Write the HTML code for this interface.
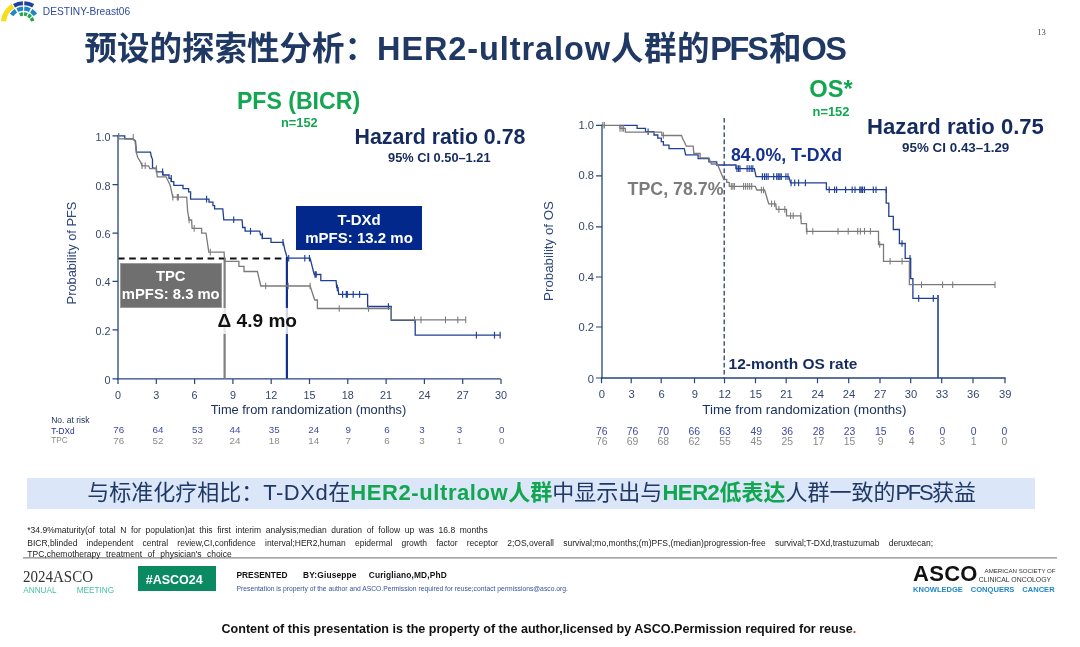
<!DOCTYPE html>
<html lang="zh"><head><meta charset="utf-8"><title>DESTINY-Breast06 HER2-ultralow PFS/OS</title>
<style>
html,body{margin:0;padding:0;background:#fff;}
body{width:1080px;height:647px;position:relative;overflow:hidden;font-family:"Liberation Sans","Noto Sans CJK SC",sans-serif;}
.gfx{position:absolute;left:0;top:0;}
.t{position:absolute;white-space:nowrap;line-height:1;transform:translateY(-50%);}
.ac{transform:translate(-50%,-50%);}
.ar{transform:translate(-100%,-50%);}
.ax{font-size:10.8px;color:#34466f;}
.rk{font-size:9.8px;}
.ro{font-size:10.4px;}
.ao{font-size:11.2px;}
.rb{color:#3f4ba2;}
.rg{color:#8a8a8a;}
.b{font-weight:bold;}
.box{position:absolute;color:#fff;font-weight:bold;text-align:center;font-size:14px;line-height:18.2px;box-sizing:border-box;}
.g{color:#12a650;font-weight:bold;}
.fn{font-size:8.5px;color:#222;}
</style></head><body>
<svg class="gfx" width="1080" height="647" viewBox="0 0 1080 647">
<path d="M0.92,20.92A22.8,22.8 0 0 1 11.52,3.96L14.27,8.37A17.6,17.6 0 0 0 6.10,21.46Z" fill="#f5df1c"/>
<path d="M13.05,3.88A22.1,22.1 0 0 1 22.83,1.21L22.97,5.31A18.0,18.0 0 0 0 15.01,7.48Z" fill="#20409a"/>
<path d="M24.37,1.21A22.1,22.1 0 0 1 34.15,3.88L32.19,7.48A18.0,18.0 0 0 0 24.23,5.31Z" fill="#20409a"/>
<path d="M9.92,13.72A16.7,16.7 0 0 1 14.87,9.06L17.07,12.64A12.5,12.5 0 0 0 13.36,16.13Z" fill="#1c86c9"/>
<path d="M16.41,8.23A16.7,16.7 0 0 1 22.87,6.62L23.05,10.81A12.5,12.5 0 0 0 18.22,12.02Z" fill="#1c86c9"/>
<path d="M24.33,6.62A16.7,16.7 0 0 1 30.79,8.23L28.98,12.02A12.5,12.5 0 0 0 24.15,10.81Z" fill="#1c86c9"/>
<path d="M32.33,9.06A16.7,16.7 0 0 1 37.11,13.48L33.71,15.95A12.5,12.5 0 0 0 30.13,12.64Z" fill="#1c86c9"/>
<path d="M19.09,13.16A11.1,11.1 0 0 1 22.92,12.22L23.14,15.81A7.5,7.5 0 0 0 20.55,16.45Z" fill="#23a651"/>
<path d="M24.18,12.22A11.1,11.1 0 0 1 27.76,13.01L26.41,16.35A7.5,7.5 0 0 0 23.99,15.81Z" fill="#23a651"/>
<path d="M28.98,13.59A11.1,11.1 0 0 1 31.98,16.02L29.26,18.38A7.5,7.5 0 0 0 27.24,16.74Z" fill="#23a651"/>
<path d="M32.69,16.93A11.1,11.1 0 0 1 34.42,20.80L30.91,21.61A7.5,7.5 0 0 0 29.74,19.00Z" fill="#23a651"/>
<g stroke="#26457c" stroke-width="1.3" fill="none">
<path d="M118,135V379.6"/>
<path d="M117.3,378.9H500.8"/>
<path d="M112.5,135.9H118 M112.5,184.6H118 M112.5,233.2H118 M112.5,281.3H118 M112.5,329.8H118 M112.5,378.9H118" stroke-width="1.2"/>
<path d="M118.0,378.9V384 M156.3,378.9V384 M194.6,378.9V384 M232.9,378.9V384 M271.2,378.9V384 M309.5,378.9V384 M347.8,378.9V384 M386.1,378.9V384 M424.4,378.9V384 M462.7,378.9V384 M501.0,378.9V384" stroke-width="1.2"/>
</g>
<path d="M224.6,258.5V378.5" stroke="#7f7f7f" stroke-width="2.2"/>
<path d="M286.9,257V378.5" stroke="#15318f" stroke-width="2.2"/>
<path d="M118.5,258.5H287" stroke="#111" stroke-width="2" stroke-dasharray="6.6 4.6" stroke-dashoffset="0.5"/>
<polyline points="118,135.9 124.8,135.9 124.8,138.9 133.2,138.9 135.5,141 136.4,152.1 150.5,152.1 151.3,156.5 152.5,159.3 152.5,168.1 156.4,168.1 156.4,171.8 162.9,171.8 162.9,175 169,175 169,178.3 171.2,178.3 171.2,181.7 173.8,181.7 173.8,185.3 183,185.3 183,188.7 188.6,188.7 188.6,191.9 190.6,191.9 190.6,199.1 209,199.1 209,202.1 213,202.1 213,205.7 214.6,205.7 214.6,208.8 222.8,208.8 223.8,219.8 242.1,219.8 242.7,227.5 245.1,227.5 245.1,231.2 259.8,231.2 260.5,234.8 262.3,234.8 262.3,238.3 271,238.3 271,242.4 283.3,242.4 284.8,249.6 286.3,254.7 287.3,258.2 310.1,258.2 314.2,274.5 320.8,274.5 320.8,280.6 336.1,280.6 336.7,287.6 338,287.6 338.7,294.4 367.6,294.4 367.6,306.5 391.2,306.5 391.2,320.3 415.2,320.3 415.2,335.1 500.4,335.1" fill="none" stroke="#1f3f95" stroke-width="1.3"/>
<path d="M162.6,168.5V175.1 M171.2,175.0V181.6 M206.6,195.8V202.4 M233.7,216.5V223.1 M250.5,227.9V234.5 M262.3,232.7V239.3 M283.0,239.1V245.7 M288.7,254.9V261.5 M304.8,254.9V261.5 M309.4,254.9V261.5 M315.0,271.2V277.8 M316.2,271.2V277.8 M337.3,284.7V291.3 M342.6,291.1V297.7 M346.3,291.1V297.7 M347.3,291.1V297.7 M353.2,291.1V297.7 M359.6,291.1V297.7 M388.4,303.2V309.8 M476.4,331.8V338.4 M494.5,331.8V338.4 M500.1,331.8V338.4" stroke="#1f3f95" stroke-width="1.15"/>
<polyline points="118.7,133 118.7,138.9 133.2,138.9 135,140.8 136.4,152.8 137.8,157.5 140.6,162.1 142,165.8 148.5,165.8 149.9,168.6 156.4,168.6 157.3,176.8 166.1,176.8 170.2,185.3 172.8,197.2 186.7,197.2 187.6,210.8 189.1,220 191.6,220 192.1,228.4 201.6,228.4 201.6,233.2 206,233.2 208.8,252.1 224.1,252.1 224.6,261.3 238.9,261.3 238.9,266.4 244,266.4 244,271.5 257.4,271.5 260.8,286 310.1,286 314.7,300 317.4,300 317.4,308.5 391.2,308.5 391.2,319.9 465.7,319.9" fill="none" stroke="#7a7a7a" stroke-width="1.3"/>
<path d="M133.2,133.9V140.5 M142.0,162.5V169.1 M145.2,162.5V169.1 M156.4,165.3V171.9 M172.8,193.9V200.5 M177.3,193.9V200.5 M178.4,193.9V200.5 M189.1,216.7V223.3 M194.2,225.1V231.7 M210.3,248.8V255.4 M265.7,282.7V289.3 M288.2,282.7V289.3 M310.1,282.7V289.3 M339.2,305.2V311.8 M368.5,305.2V311.8 M414.5,316.6V323.2 M421.0,316.6V323.2 M445.5,316.6V323.2 M457.8,316.6V323.2 M465.7,316.6V323.2" stroke="#7a7a7a" stroke-width="1.05"/>
<g stroke="#26457c" stroke-width="1.3" fill="none">
<path d="M602,124.6V378.7"/>
<path d="M601.3,378H1005.6"/>
<path d="M596,125.3H602 M596,175.8H602 M596,226.8H602 M596,277H602 M596,327H602 M596,378H602" stroke-width="1.2"/>
<path d="M601.5,378V383.2 M631.2,378V383.2 M661.2,378V383.2 M694.5,378V383.2 M724.5,378V383.2 M755.5,378V383.2 M786.2,378V383.2 M817.5,378V383.2 M848.7,378V383.2 M880.0,378V383.2 M910.7,378V383.2 M941.7,378V383.2 M973.0,378V383.2 M1005.0,378V383.2" stroke-width="1.2"/>
</g>
<path d="M724.2,118V378" stroke="#1f3a70" stroke-width="1.25" stroke-dasharray="4.6 2.6"/>
<polyline points="619.5,125.3 637.1,125.3 637.1,128.4 645.5,128.4 645.5,131.7 654,131.7 654,135 657.8,135 657.8,138.1 661.3,138.1 661.3,141.6 663.4,141.6 663.4,145.2 669,145.2 669,148.6 684.3,148.6 685.6,154.9 698.1,154.9 698.1,158.6 708.9,158.6 708.9,161.9 716.7,161.9 716.7,165 735.9,165 735.9,168.6 754.3,168.6 756.1,176.6 788.8,176.6 790.6,182.9 826.4,182.9 826.4,189.7 886.2,189.7 886.2,203.1 888.8,203.1 888.8,216.3 893.3,216.3 893.3,229.5 899.4,229.5 899.4,243.5 905.2,243.5 905.2,258.3 910.7,258.3 910.7,278.7 912.9,278.7 912.9,298.4 937.2,298.4" fill="none" stroke="#1f3f95" stroke-width="1.3"/>
<path d="M648.1,128.4V135.0 M736.9,165.3V171.9 M738.5,165.3V171.9 M740.0,165.3V171.9 M747.1,165.3V171.9 M749.2,165.3V171.9 M751.2,165.3V171.9 M752.8,165.3V171.9 M762.4,173.3V179.9 M764.5,173.3V179.9 M766.3,173.3V179.9 M768.1,173.3V179.9 M773.7,173.3V179.9 M776.7,173.3V179.9 M778.3,173.3V179.9 M779.8,173.3V179.9 M781.3,173.3V179.9 M785.9,173.3V179.9 M788.0,173.3V179.9 M791.1,179.6V186.2 M794.7,179.6V186.2 M798.6,179.6V186.2 M805.4,179.6V186.2 M829.2,186.4V193.0 M834.6,186.4V193.0 M836.6,186.4V193.0 M845.6,186.4V193.0 M852.2,186.4V193.0 M855.0,186.4V193.0 M859.8,186.4V193.0 M861.2,186.4V193.0 M862.6,186.4V193.0 M864.5,186.4V193.0 M873.3,186.4V193.0 M876.0,186.4V193.0 M886.2,186.4V193.0 M902.0,240.2V246.8 M910.0,255.0V261.6 M918.7,295.1V301.7 M933.3,295.1V301.7" stroke="#1f3f95" stroke-width="1.15"/>
<polyline points="602,125.3 620,125.3 620,128.4 625.4,128.4 625.4,132.1 661.8,132.1 661.8,135.5 681.5,135.5 682.8,139.1 684.8,142.7 686.3,146.2 693.2,146.2 693.8,153.4 700.1,153.4 700.1,157.9 708.9,157.9 711.4,164 717.3,164 723.7,179.3 726.7,179.3 726.7,182.3 729.3,182.3 729.3,186.4 755.3,186.4 756.8,190 764.6,190 768.7,203.8 775.8,203.8 776.3,209.4 786.5,209.4 786.5,215.8 800.8,215.8 801.3,223.7 806.5,223.7 806.5,231.3 878.5,231.3 878.5,244.5 883.5,244.5 883.5,261.3 909.4,261.3 909.4,284.7 995,284.7" fill="none" stroke="#7a7a7a" stroke-width="1.3"/>
<path d="M602.8,122.0V128.6 M604.4,122.0V128.6 M620.0,125.1V131.7 M622.0,125.1V131.7 M623.6,125.1V131.7 M663.4,132.2V138.8 M731.3,183.1V189.7 M732.9,183.1V189.7 M734.4,183.1V189.7 M743.6,183.1V189.7 M745.6,183.1V189.7 M747.7,183.1V189.7 M749.7,183.1V189.7 M751.7,183.1V189.7 M761.4,186.7V193.3 M763.5,186.7V193.3 M771.6,200.5V207.1 M774.6,200.5V207.1 M778.9,206.1V212.7 M784.8,206.1V212.7 M790.6,212.5V219.1 M793.2,212.5V219.1 M800.8,212.5V219.1 M806.9,228.0V234.6 M812.8,228.0V234.6 M838.0,228.0V234.6 M848.2,228.0V234.6 M857.7,228.0V234.6 M860.4,228.0V234.6 M864.5,228.0V234.6 M870.4,228.0V234.6 M879.7,241.2V247.8 M890.1,258.0V264.6 M902.1,258.0V264.6 M921.5,281.4V288.0 M942.6,281.4V288.0 M952.7,281.4V288.0 M995.0,281.4V288.0" stroke="#7a7a7a" stroke-width="1.05"/>
<path d="M938,295V378" stroke="#1f3f95" stroke-width="1.6"/>
<path d="M23,557.9H1057" stroke="#8a8a8a" stroke-width="1.3"/>
</svg>
<!--TEXT-->
<div class="t ax ar" style="left:110.5px;top:137px;">1.0</div>
<div class="t ax ar" style="left:110.5px;top:185.7px;">0.8</div>
<div class="t ax ar" style="left:110.5px;top:234.3px;">0.6</div>
<div class="t ax ar" style="left:110.5px;top:282.4px;">0.4</div>
<div class="t ax ar" style="left:110.5px;top:331px;">0.2</div>
<div class="t ax ar" style="left:110.5px;top:380.3px;">0</div>
<div class="t ax ac" style="left:118.0px;top:394.5px;">0</div>
<div class="t ax ac" style="left:156.3px;top:394.5px;">3</div>
<div class="t ax ac" style="left:194.6px;top:394.5px;">6</div>
<div class="t ax ac" style="left:232.89999999999998px;top:394.5px;">9</div>
<div class="t ax ac" style="left:271.2px;top:394.5px;">12</div>
<div class="t ax ac" style="left:309.5px;top:394.5px;">15</div>
<div class="t ax ac" style="left:347.79999999999995px;top:394.5px;">18</div>
<div class="t ax ac" style="left:386.09999999999997px;top:394.5px;">21</div>
<div class="t ax ac" style="left:424.4px;top:394.5px;">24</div>
<div class="t ax ac" style="left:462.7px;top:394.5px;">27</div>
<div class="t ax ac" style="left:501.0px;top:394.5px;">30</div>
<div class="t ax ao ac" style="left:601.8px;top:394.8px;">0</div>
<div class="t ax ao ac" style="left:631.5px;top:394.8px;">3</div>
<div class="t ax ao ac" style="left:661.5px;top:394.8px;">6</div>
<div class="t ax ao ac" style="left:694.8px;top:394.8px;">9</div>
<div class="t ax ao ac" style="left:724.8px;top:394.8px;">12</div>
<div class="t ax ao ac" style="left:755.8px;top:394.8px;">15</div>
<div class="t ax ao ac" style="left:786.5px;top:394.8px;">21</div>
<div class="t ax ao ac" style="left:817.8px;top:394.8px;">24</div>
<div class="t ax ao ac" style="left:849.0px;top:394.8px;">24</div>
<div class="t ax ao ac" style="left:880.3px;top:394.8px;">27</div>
<div class="t ax ao ac" style="left:911.0px;top:394.8px;">30</div>
<div class="t ax ao ac" style="left:942.0px;top:394.8px;">33</div>
<div class="t ax ao ac" style="left:973.3px;top:394.8px;">36</div>
<div class="t ax ao ac" style="left:1005.3px;top:394.8px;">39</div>
<div class="t ax ao ar" style="left:594px;top:125.7px;">1.0</div>
<div class="t ax ao ar" style="left:594px;top:176.2px;">0.8</div>
<div class="t ax ao ar" style="left:594px;top:227.3px;">0.6</div>
<div class="t ax ao ar" style="left:594px;top:277.7px;">0.4</div>
<div class="t ax ao ar" style="left:594px;top:327.7px;">0.2</div>
<div class="t ax ao ar" style="left:594px;top:379.7px;">0</div>
<div class="t rk rb ac" style="left:118.75px;top:429.5px;">76</div>
<div class="t rk rg ac" style="left:118.75px;top:440.8px;">76</div>
<div class="t rk rb ac" style="left:158px;top:429.5px;">64</div>
<div class="t rk rg ac" style="left:158px;top:440.8px;">52</div>
<div class="t rk rb ac" style="left:197.5px;top:429.5px;">53</div>
<div class="t rk rg ac" style="left:197.5px;top:440.8px;">32</div>
<div class="t rk rb ac" style="left:235px;top:429.5px;">44</div>
<div class="t rk rg ac" style="left:235px;top:440.8px;">24</div>
<div class="t rk rb ac" style="left:274.25px;top:429.5px;">35</div>
<div class="t rk rg ac" style="left:274.25px;top:440.8px;">18</div>
<div class="t rk rb ac" style="left:313.75px;top:429.5px;">24</div>
<div class="t rk rg ac" style="left:313.75px;top:440.8px;">14</div>
<div class="t rk rb ac" style="left:348.25px;top:429.5px;">9</div>
<div class="t rk rg ac" style="left:348.25px;top:440.8px;">7</div>
<div class="t rk rb ac" style="left:387px;top:429.5px;">6</div>
<div class="t rk rg ac" style="left:387px;top:440.8px;">6</div>
<div class="t rk rb ac" style="left:422px;top:429.5px;">3</div>
<div class="t rk rg ac" style="left:422px;top:440.8px;">3</div>
<div class="t rk rb ac" style="left:459.5px;top:429.5px;">3</div>
<div class="t rk rg ac" style="left:459.5px;top:440.8px;">1</div>
<div class="t rk rb ac" style="left:501.75px;top:429.5px;">0</div>
<div class="t rk rg ac" style="left:501.75px;top:440.8px;">0</div>
<div class="t rk ro rb ac" style="left:601.75px;top:431.9px;">76</div>
<div class="t rk ro rg ac" style="left:601.75px;top:442.4px;">76</div>
<div class="t rk ro rb ac" style="left:632.5px;top:431.9px;">76</div>
<div class="t rk ro rg ac" style="left:632.5px;top:442.4px;">69</div>
<div class="t rk ro rb ac" style="left:663.25px;top:431.9px;">70</div>
<div class="t rk ro rg ac" style="left:663.25px;top:442.4px;">68</div>
<div class="t rk ro rb ac" style="left:694.25px;top:431.9px;">66</div>
<div class="t rk ro rg ac" style="left:694.25px;top:442.4px;">62</div>
<div class="t rk ro rb ac" style="left:725px;top:431.9px;">63</div>
<div class="t rk ro rg ac" style="left:725px;top:442.4px;">55</div>
<div class="t rk ro rb ac" style="left:756.25px;top:431.9px;">49</div>
<div class="t rk ro rg ac" style="left:756.25px;top:442.4px;">45</div>
<div class="t rk ro rb ac" style="left:787.2px;top:431.9px;">36</div>
<div class="t rk ro rg ac" style="left:787.2px;top:442.4px;">25</div>
<div class="t rk ro rb ac" style="left:818.5px;top:431.9px;">28</div>
<div class="t rk ro rg ac" style="left:818.5px;top:442.4px;">17</div>
<div class="t rk ro rb ac" style="left:849.5px;top:431.9px;">23</div>
<div class="t rk ro rg ac" style="left:849.5px;top:442.4px;">15</div>
<div class="t rk ro rb ac" style="left:880.75px;top:431.9px;">15</div>
<div class="t rk ro rg ac" style="left:880.75px;top:442.4px;">9</div>
<div class="t rk ro rb ac" style="left:911.75px;top:431.9px;">6</div>
<div class="t rk ro rg ac" style="left:911.75px;top:442.4px;">4</div>
<div class="t rk ro rb ac" style="left:942.5px;top:431.9px;">0</div>
<div class="t rk ro rg ac" style="left:942.5px;top:442.4px;">3</div>
<div class="t rk ro rb ac" style="left:973.75px;top:431.9px;">0</div>
<div class="t rk ro rg ac" style="left:973.75px;top:442.4px;">1</div>
<div class="t rk ro rb ac" style="left:1004.5px;top:431.9px;">0</div>
<div class="t rk ro rg ac" style="left:1004.5px;top:442.4px;">0</div>
<div class="t" style="left:42.8px;top:12.4px;font-size:10.2px;color:#2f4aa0;">DESTINY-Breast06</div>
<div class="t" id="title" style="left:84.5px;top:48.5px;font-size:32.5px;font-weight:bold;color:#1f3864;"><span>预设的探索性分析：</span><span class="lt" style="letter-spacing:0.9px;">HER2-ultralow</span><span style="letter-spacing:0.6px;">人群的</span><span class="lt" style="letter-spacing:-2.2px;">PFS</span><span style="margin-left:2.2px;">和</span><span class="lt" style="letter-spacing:-1.6px;">OS</span></div>
<div class="t" style="left:1041.5px;top:31.5px;font-family:'Liberation Serif','Noto Serif CJK SC',serif;font-size:8.5px;color:#444;transform:translate(-50%,-50%);">13</div>

<div class="t b ac" id="pfsT" style="left:298.5px;top:101.7px;font-size:23.1px;color:#12a650;">PFS (BICR)</div>
<div class="t b ac" style="left:299.3px;top:122.6px;font-size:12.8px;color:#12a650;">n=152</div>
<div class="t b ac" id="hr1" style="left:440px;top:137.8px;font-size:21.35px;color:#152a5e;">Hazard ratio 0.78</div>
<div class="t b ac" id="ci1" style="left:439.3px;top:157.7px;font-size:12.8px;color:#152a5e;">95% CI 0.50–1.21</div>

<div class="t b ac" id="osT" style="left:831px;top:89.9px;font-size:23.7px;color:#12a650;">OS*</div>
<div class="t b ac" style="left:831px;top:112px;font-size:12.9px;color:#12a650;">n=152</div>
<div class="t b ac" id="hr2" style="left:955.5px;top:127.3px;font-size:22.1px;color:#152a5e;">Hazard ratio 0.75</div>
<div class="t b ac" id="ci2" style="left:955.7px;top:148.1px;font-size:13.4px;color:#152a5e;">95% CI 0.43–1.29</div>

<div class="t ac" style="left:71.6px;top:253.2px;font-size:12.85px;color:#2d477f;transform:translate(-50%,-50%) rotate(-90deg);">Probability of PFS</div>
<div class="t ac" style="left:549.3px;top:251px;font-size:13.3px;color:#2d477f;transform:translate(-50%,-50%) rotate(-90deg);">Probability of OS</div>
<div class="t ac" id="xl1" style="left:308.5px;top:409.5px;font-size:12.84px;color:#1d3260;">Time from randomization (months)</div>
<div class="t ac" id="xl2" style="left:804.4px;top:410px;font-size:13.4px;color:#1d3260;">Time from randomization (months)</div>

<div class="box" style="left:296.3px;top:206.3px;width:125.5px;height:43.7px;background:#03288b;padding-top:4.6px;font-size:15px;line-height:17.9px;">T-DXd<br>mPFS: 13.2 mo</div>
<div class="box" style="left:119.5px;top:263px;width:102.5px;height:44.5px;background:#6f6f6f;border:1px solid #9a9a9a;padding-top:3px;font-size:14.8px;line-height:18.4px;">TPC<br>mPFS: 8.3 mo</div>
<div class="t b" id="delta" style="left:214px;top:321.2px;font-size:19.1px;color:#111;background:rgba(255,255,255,0.8);padding:3px 3px 4px 3.5px;">Δ 4.9 mo</div>

<div class="t b" id="l84" style="left:731px;top:155.6px;font-size:17.7px;color:#15318f;">84.0%, T-DXd</div>
<div class="t b" id="l78" style="left:627.6px;top:190.4px;font-size:17.8px;color:#7b7b7b;">TPC, 78.7%</div>
<div class="t b" id="l12" style="left:728.6px;top:364px;font-size:15.46px;color:#152a5e;">12-month OS rate</div>

<div class="t" style="left:51.2px;top:420px;font-size:8.5px;color:#1d3260;">No. at risk</div>
<div class="t" style="left:51.2px;top:431.3px;font-size:8.3px;color:#232f96;">T-DXd</div>
<div class="t" style="left:51.2px;top:440.7px;font-size:8.2px;color:#8a8a8a;">TPC</div>

<div style="position:absolute;left:26.7px;top:477.7px;width:1008.6px;height:30.9px;background:#dbe6f8;"></div>
<div class="t" id="ban" style="left:87.3px;top:493.2px;font-size:22px;color:#1f3864;"><span id="b1">与标准化疗相比：<span id="b1t" style="letter-spacing:0.5px">T-DXd</span>在</span><span class="g" id="b2"><span style="letter-spacing:0.6px">HER2-ultralow</span>人群</span><span id="b3">中显示出与</span><span class="g" id="b4"><span style="letter-spacing:-0.4px">HER2</span>低表达</span><span id="b5">人群一致的<span style="letter-spacing:-2.3px;margin-right:0.6px">PFS</span>获益</span></div>

<div class="t fn" id="fn1" style="left:27.3px;top:530.4px;word-spacing:2.28px;">*34.9%maturity(of total N for population)at this first interim analysis;median duration of follow up was 16.8 months</div>
<div class="t fn" id="fn2" style="left:27.3px;top:542.6px;word-spacing:6.86px;">BICR,blinded independent central review,CI,confidence interval;HER2,human epidermal growth factor receptor 2;OS,overall survival;mo,months;(m)PFS,(median)progression-free survival;T-DXd,trastuzumab deruxtecan;</div>
<div class="t fn" id="fn3" style="left:27.3px;top:554.4px;word-spacing:3.2px;">TPC,chemotherapy treatment of physician's choice</div>

<div class="t" id="asco24" style="left:22.5px;top:576.7px;font-family:'Liberation Serif','Noto Serif CJK SC',serif;font-size:17.5px;color:#333;transform:translateY(-50%) scaleX(0.857);transform-origin:left center;">2024ASCO</div>
<div class="t" id="annual" style="left:23.3px;top:590.9px;font-size:8.2px;color:#46c3a0;word-spacing:18.3px;">ANNUAL MEETING</div>
<div class="t b" style="left:138.3px;top:566px;width:77.4px;height:24.7px;background:#0b8a62;color:#fff;font-size:12.5px;line-height:28.5px;text-align:left;padding-left:7.4px;box-sizing:border-box;overflow:hidden;transform:none;">#ASCO24</div>
<div class="t b" id="pres" style="left:236.5px;top:574.9px;font-size:8.35px;color:#111;">PRESENTED<span style="margin-left:15.6px;letter-spacing:0.15px">BY:Giuseppe</span><span style="margin-left:12.2px;letter-spacing:0.15px">Curigliano,MD,PhD</span></div>
<div class="t" id="prop" style="left:236.5px;top:588.8px;font-size:6.75px;color:#34559e;">Presentation is property of the author and ASCO.Permission required for reuse;contact permissions@asco.org.</div>

<div class="t b" id="ascoL" style="left:913px;top:574.4px;font-size:22px;color:#111;letter-spacing:0.3px;">ASCO</div>
<div class="t" id="am1" style="left:984.6px;top:571.3px;font-size:6.13px;color:#333;">AMERICAN SOCIETY OF</div>
<div class="t" id="am2" style="left:978.7px;top:579.5px;font-size:6.9px;color:#333;">CLINICAL ONCOLOGY</div>
<div class="t b" id="kcc" style="left:913px;top:589.7px;font-size:7.55px;color:#2187c9;word-spacing:5.8px;">KNOWLEDGE CONQUERS CANCER</div>

<div class="t b" id="cont" style="left:221.5px;top:628.5px;font-size:12.57px;color:#111;">Content of this presentation is the property of the author,licensed by ASCO.Permission required for reuse<span style="color:#c0392b;">.</span></div>

</body></html>
